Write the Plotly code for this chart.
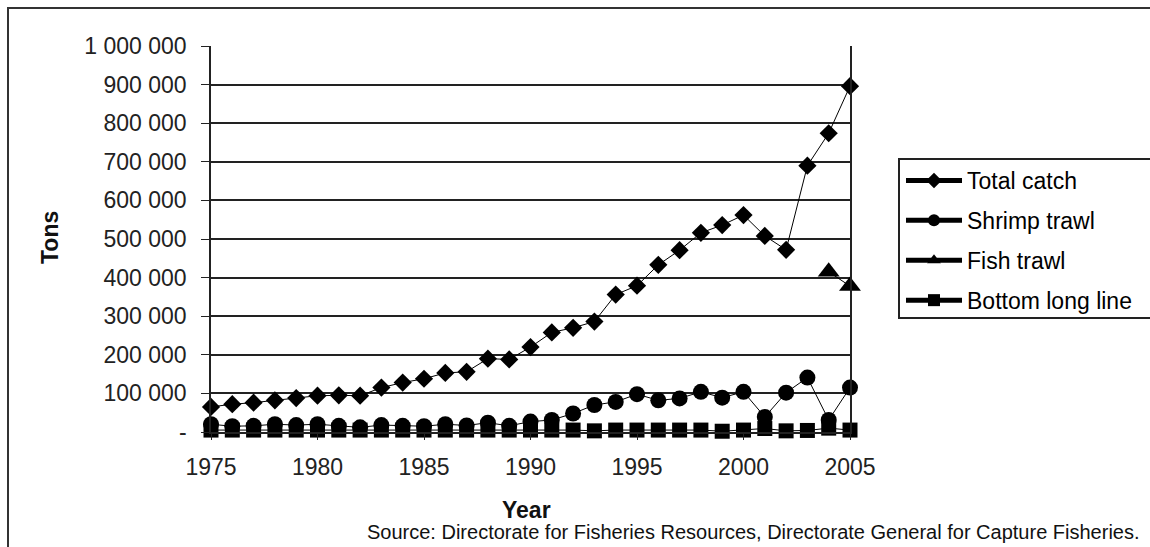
import plotly.graph_objects as go

# Annual catch in the fishery, tons
years = list(range(1975, 2006))

total_catch = [65000, 72000, 76000, 82000, 88000, 94000, 95000, 94000, 115000, 128000,
               138000, 153000, 156000, 190000, 188000, 220000, 258000, 270000, 286000, 356000,
               379000, 433000, 471000, 516000, 536000, 562000, 508000, 472000, 690000, 774000,
               896000]

shrimp_trawl = [20000, 15000, 16000, 20000, 18000, 20000, 16000, 12000, 18000, 16000,
                15000, 20000, 17000, 24000, 16000, 27000, 31000, 48000, 70000, 78000,
                98000, 82000, 87000, 104000, 89000, 104000, 39000, 102000, 141000, 31000,
                115000]

fish_trawl = [None] * 29 + [415000, 378000]

bottom_long_line = [5000, 5000, 5000, 5000, 5000, 5000, 5000, 5000, 5000, 5000,
                    5000, 5000, 5000, 5000, 5000, 5000, 5000, 5000, 3000, 5000,
                    5000, 5000, 5000, 5000, 2000, 5000, 9000, 3000, 4000, 10000,
                    5000]

series = [
    ("Total catch", total_catch, "diamond", 14),
    ("Shrimp trawl", shrimp_trawl, "circle", 16),
    ("Fish trawl", fish_trawl, "triangle-up", 19),
    ("Bottom long line", bottom_long_line, "square", 15),
]

y_tickvals = list(range(0, 1000001, 100000))
y_ticktext = ["-"] + [f"{v:,}".replace(",", " ") for v in y_tickvals[1:]]
x_tickvals = list(range(1975, 2006, 5))

FONT = "Liberation Sans, Arial, sans-serif"

fig = go.Figure()
for name, vals, sym, size in series:
    fig.add_trace(go.Scatter(
        x=years, y=vals, name=name, mode="lines+markers",
        line=dict(color="black", width=1),
        marker=dict(symbol=sym, size=size, color="black"),
        cliponaxis=False, legendgroup=name,
    ))

# plot area spans x 211..850 px, y 46..432 px
L, R, T, B = 211, 850, 46, 432
W, H = 1150, 547


def px(x):
    return (x - L) / (R - L)


def py(y):
    return (B - y) / (B - T)


fig.update_layout(
    width=W, height=H,
    margin=dict(l=L, r=W - R, t=T, b=H - B),
    paper_bgcolor="white", plot_bgcolor="white",
    font=dict(family=FONT, size=23, color="black"),
    showlegend=True,
    legend=dict(
        x=px(901), y=py(159), xanchor="left", yanchor="top",
        borderwidth=0, bgcolor="rgba(0,0,0,0)",
        font=dict(family=FONT, size=23, color="black"),
        itemsizing="constant", tracegroupgap=7, itemwidth=56,
    ),
    xaxis=dict(
        range=[1975, 2005], tickvals=x_tickvals, ticks="outside", ticklen=6,
        tickcolor="#222", showline=True, linecolor="#222", linewidth=1.5,
        showgrid=False, zeroline=False, ticklabelstandoff=8,
        tickfont=dict(family=FONT, size=23, color="#222"),
    ),
    yaxis=dict(
        range=[0, 1000000], tickvals=y_tickvals, ticktext=y_ticktext,
        ticks="outside", ticklen=8, tickcolor="#222",
        showline=True, linecolor="#222", linewidth=1.5, mirror=True,
        showgrid=True, gridcolor="#222", gridwidth=1.5, zeroline=False,
        ticklabelstandoff=10,
        tickfont=dict(family=FONT, size=23, color="#222"),
    ),
    shapes=[
        # outer chart frame
        dict(type="rect", xref="paper", yref="paper",
             x0=px(8), x1=px(1170), y0=py(560), y1=py(8),
             line=dict(color="#333", width=2), layer="below"),
        # legend frame
        dict(type="rect", xref="paper", yref="paper",
             x0=px(899), x1=px(1175), y0=py(318), y1=py(159),
             line=dict(color="#222", width=2), layer="below"),
    ],
    annotations=[
        dict(text="<b>Tons</b>", xref="paper", yref="paper", x=px(50), y=py(238),
             showarrow=False, textangle=-90, font=dict(family=FONT, size=23, color="#111"),
             xanchor="center", yanchor="middle"),
        dict(text="<b>Year</b>", xref="paper", yref="paper", x=px(526), y=py(510),
             showarrow=False, font=dict(family=FONT, size=23, color="#111"),
             xanchor="center", yanchor="middle"),
        dict(text="Source: Directorate for Fisheries Resources, Directorate General for Capture Fisheries.",
             xref="paper", yref="paper", x=px(1142), y=py(532),
             showarrow=False, font=dict(family=FONT, size=20, color="#111"),
             xanchor="right", yanchor="middle"),
    ],
)

fig.write_html("out.html")
